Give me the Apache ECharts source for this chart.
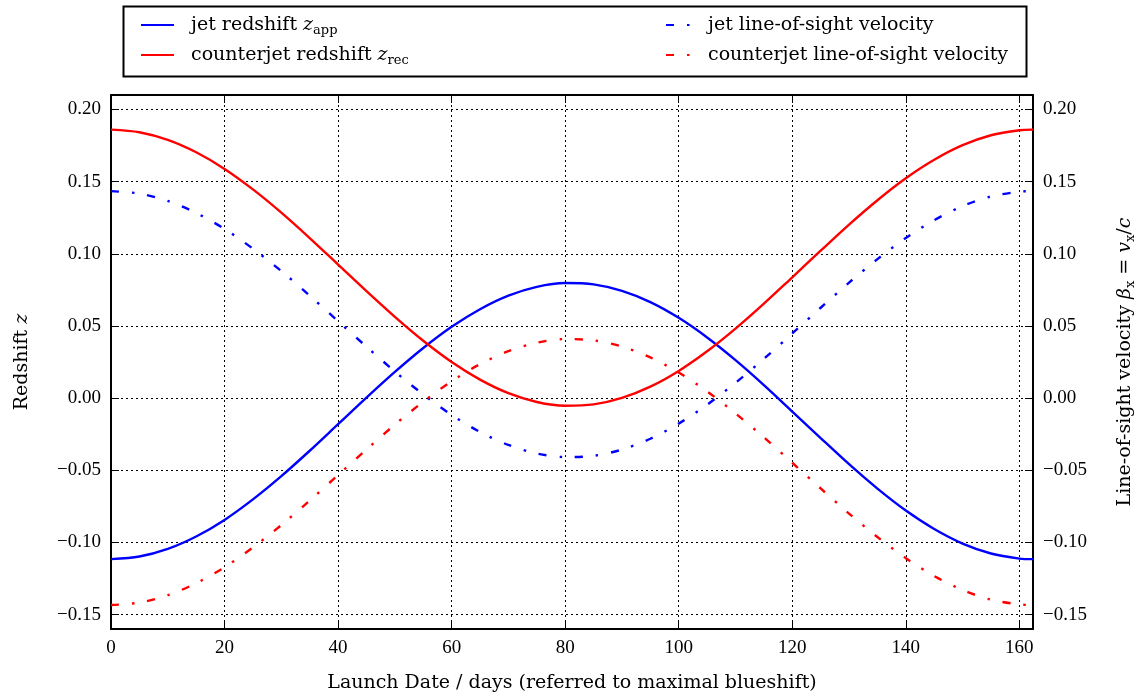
<!DOCTYPE html>
<html>
<head>
<meta charset="utf-8">
<title>SS 433 jet redshifts</title>
<script src="https://cdn.jsdelivr.net/npm/echarts@6/dist/echarts.min.js"></script>
<style>
  html, body { margin: 0; padding: 0; background: #ffffff; }
  #chart { width: 1145px; height: 698px; }
</style>
</head>
<body>
<div id="chart"></div>
<script>
// Launch date in days, referred to maximal blueshift (one precession period)
const days = [0, 5, 10, 15, 20, 25, 30, 35, 40, 45, 50, 55, 60, 65, 70, 75, 80,
              85, 90, 95, 100, 105, 110, 115, 120, 125, 130, 135, 140, 145, 150, 155, 160, 162.4];

// Jet redshift z_app
const jetRedshift = [-0.1116, -0.1098, -0.1045, -0.0959, -0.0844, -0.0702, -0.0541, -0.0365, -0.0181, 0.0003,
                     0.0181, 0.0347, 0.0494, 0.0616, 0.0710, 0.0771, 0.0797, 0.0788, 0.0743, 0.0665,
                     0.0556, 0.0420, 0.0263, 0.0090, -0.0093, -0.0277, -0.0458, -0.0627, -0.0779, -0.0907,
                     -0.1008, -0.1077, -0.1112, -0.1116];

// Counterjet redshift z_rec
const counterjetRedshift = [0.1860, 0.1842, 0.1789, 0.1703, 0.1588, 0.1446, 0.1285, 0.1109, 0.0925, 0.0741,
                            0.0563, 0.0397, 0.0250, 0.0128, 0.0034, -0.0027, -0.0053, -0.0044, 0.0001, 0.0079,
                            0.0188, 0.0324, 0.0481, 0.0654, 0.0837, 0.1021, 0.1202, 0.1371, 0.1523, 0.1651,
                            0.1752, 0.1821, 0.1856, 0.1860];

// Jet line-of-sight velocity beta_x
const jetVelocity = [0.1434, 0.1417, 0.1366, 0.1283, 0.1172, 0.1035, 0.0880, 0.0710, 0.0533, 0.0356,
                     0.0184, 0.0025, -0.0117, -0.0235, -0.0325, -0.0384, -0.0409, -0.0400, -0.0357, -0.0282,
                     -0.0177, -0.0046, 0.0106, 0.0272, 0.0448, 0.0626, 0.0800, 0.0963, 0.1109, 0.1233,
                     0.1330, 0.1397, 0.1430, 0.1434];

// Counterjet line-of-sight velocity beta_x
const counterjetVelocity = [-0.1434, -0.1417, -0.1366, -0.1283, -0.1172, -0.1035, -0.0880, -0.0710, -0.0533, -0.0356,
                            -0.0184, -0.0025, 0.0117, 0.0235, 0.0325, 0.0384, 0.0409, 0.0400, 0.0357, 0.0282,
                            0.0177, 0.0046, -0.0106, -0.0272, -0.0448, -0.0626, -0.0800, -0.0963, -0.1109, -0.1233,
                            -0.1330, -0.1397, -0.1430, -0.1434];

const seriesNames = ['jet redshift zapp', 'counterjet redshift zrec',
                     'jet line-of-sight velocity', 'counterjet line-of-sight velocity'];

const legendText = {
  'jet redshift zapp': 'jet redshift {i|z}{s|app}',
  'counterjet redshift zrec': 'counterjet redshift {i|z}{s|rec}',
  'jet line-of-sight velocity': 'jet line-of-sight velocity',
  'counterjet line-of-sight velocity': 'counterjet line-of-sight velocity'
};

const TEXT_FONT = 'DejaVu Serif';
const NUM_FONT = 'Liberation Serif';
const BLUE = '#0000ff';
const RED = '#ff0000';
const LINE_W = 2.4;
const DASH_DOT = [8, 13, 2.5, 13];

const pairs = (ys) => days.map((d, i) => [d, ys[i]]);

const richBase = {
  i: { fontFamily: TEXT_FONT, fontSize: 19, fontStyle: 'italic', color: '#000', lineHeight: 24 },
  s: { fontFamily: TEXT_FONT, fontSize: 13, color: '#000', lineHeight: 12, verticalAlign: 'bottom' }
};

const fmtTick = (v) => (v < -1e-9 ? '\u2212' : '') + Math.abs(v).toFixed(2);

const gridDots = { color: '#000', width: 1, type: [2, 3] };
const frameLine = { show: true, onZero: false, lineStyle: { color: '#000', width: 2 } };
const innerTick = { show: true, inside: true, length: 8, lineStyle: { color: '#000', width: 1 } };

const yCommon = {
  type: 'value',
  min: -0.16,
  max: 0.21,
  splitNumber: 7,
  minInterval: 0.05,
  maxInterval: 0.05,
  axisLine: frameLine,
  axisTick: innerTick,
  axisLabel: {
    show: true, showMinLabel: false, showMaxLabel: false,
    fontFamily: NUM_FONT, fontSize: 19, color: '#000', margin: 10,
    formatter: fmtTick
  },
  nameLocation: 'middle',
  nameRotate: 90,
  nameTextStyle: { fontFamily: TEXT_FONT, fontSize: 19, color: '#000', rich: richBase }
};

const legendCommon = {
  orient: 'vertical',
  top: 8,
  itemWidth: 33, itemHeight: 14, itemGap: 6,
  itemStyle: { opacity: 0, borderWidth: 0 },
  formatter: (name) => legendText[name]
};

const lineSeries = (name, values, color, dashed) => ({
  name, type: 'line', data: pairs(values), smooth: 0.3,
  xAxisIndex: 0, yAxisIndex: 0, showSymbol: false, symbol: 'none',
  lineStyle: dashed ? { color, width: LINE_W, type: DASH_DOT, cap: 'butt' } : { color, width: LINE_W },
  itemStyle: { color }, z: 3
});

const chart = echarts.init(document.getElementById('chart'), null, { renderer: 'canvas' });

chart.setOption({
  animation: false,
  backgroundColor: '#ffffff',
  grid: { left: 111, right: 111, top: 95, bottom: 68, containLabel: false },
  legend: [
    Object.assign({}, legendCommon, {
      data: seriesNames.slice(0, 2),
      left: 135,
      textStyle: { fontFamily: TEXT_FONT, fontSize: 19, color: '#000', lineHeight: 24, padding: [0, 0, 0, 12], rich: richBase }
    }),
    Object.assign({}, legendCommon, {
      data: seriesNames.slice(2),
      left: 660,
      textStyle: { fontFamily: TEXT_FONT, fontSize: 19, color: '#000', lineHeight: 24, padding: [0, 0, 0, 4], rich: richBase }
    })
  ],
  graphic: [
    {
      type: 'rect',
      left: 121, top: 4,
      shape: { width: 903, height: 70 },
      style: { fill: 'none', stroke: '#000', lineWidth: 2 },
      silent: true, z: 100
    }
  ],
  xAxis: [
    {
      type: 'value',
      position: 'bottom',
      min: 0, max: 162.4, interval: 20,
      name: 'Launch Date / days (referred to maximal blueshift)',
      nameLocation: 'middle',
      nameGap: 45,
      nameTextStyle: { fontFamily: TEXT_FONT, fontSize: 19, color: '#000' },
      axisLine: frameLine,
      axisTick: innerTick,
      axisLabel: { showMaxLabel: false, fontFamily: NUM_FONT, fontSize: 19, color: '#000', margin: 10 },
      splitLine: { show: true, lineStyle: gridDots }
    },
    {
      type: 'value',
      position: 'top',
      min: 0, max: 162.4, interval: 20,
      axisLine: frameLine,
      axisTick: innerTick,
      axisLabel: { show: false },
      splitLine: { show: false }
    }
  ],
  yAxis: [
    Object.assign({}, yCommon, {
      position: 'left',
      name: 'Redshift {i|z}',
      nameGap: 77,
      splitLine: { show: true, lineStyle: gridDots }
    }),
    Object.assign({}, yCommon, {
      position: 'right',
      name: 'Line-of-sight velocity {i|\u03b2}{s|x} = {i|v}{s|x}/{i|c}',
      nameGap: 80,
      splitLine: { show: false }
    })
  ],
  series: [
    lineSeries(seriesNames[0], jetRedshift, BLUE, false),
    lineSeries(seriesNames[1], counterjetRedshift, RED, false),
    lineSeries(seriesNames[2], jetVelocity, BLUE, true),
    lineSeries(seriesNames[3], counterjetVelocity, RED, true)
  ]
});
</script>
</body>
</html>
